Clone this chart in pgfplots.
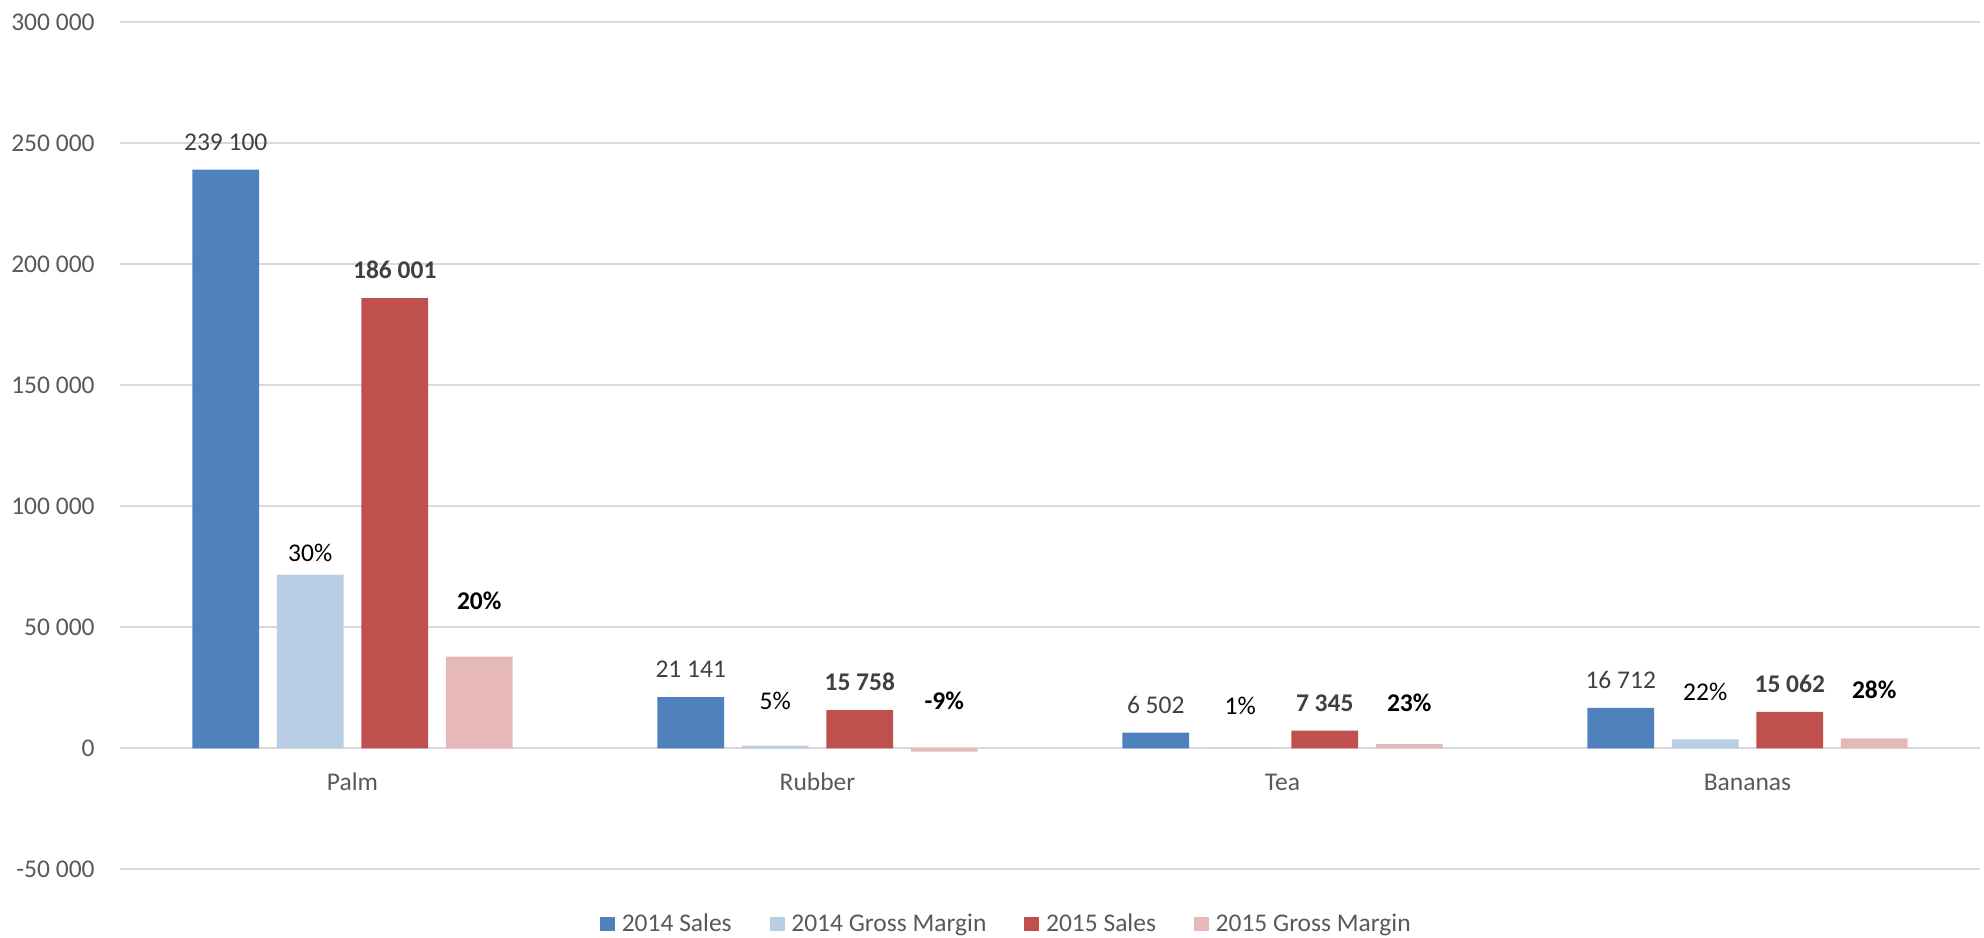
\documentclass[border=0pt]{standalone}
\usepackage{pgfplots}
\pgfplotsset{compat=1.18}
\usepackage{fontspec}
\setmainfont{Carlito}
\definecolor{sBlue}{HTML}{4F81BD}
\definecolor{sLBlue}{HTML}{B9CDE5}
\definecolor{sRed}{HTML}{C0504D}
\definecolor{sPink}{HTML}{E6B9B8}
\definecolor{textgray}{HTML}{595959}
\definecolor{labelgray}{HTML}{404040}
\definecolor{gridgray}{HTML}{D9D9D9}
\newcommand\cf{\fontsize{12.75bp}{15bp}\selectfont}
\begin{document}
\begin{tikzpicture}
\begin{axis}[
  scale only axis,
  width=930bp, height=423.5bp,
  xmin=-0.5, xmax=3.5,
  ymin=-50000, ymax=300000,
  ybar, bar width=0.1434,
  axis line style={draw=none},
  major tick length=0pt,
  ymajorgrids,
  grid style={gridgray, line width=1bp},
  xtick={0,1,2,3},
  xticklabels={Palm,Rubber,Tea,Bananas},
  ytick={-50000,0,50000,100000,150000,200000,250000,300000},
  yticklabels={-50 000,0,50 000,100 000,150 000,200 000,250 000,300 000},
  /pgf/number format/assume math mode=true,
  xticklabel style={font=\cf, text=textgray, anchor=base, inner sep=0pt, yshift=39.3bp},
  yticklabel style={font=\cf, text=textgray, anchor=east, inner sep=0pt, xshift=-12.5bp},
  legend columns=4,
  legend style={at={(rel axis cs:0.2581,-0.0649)}, anchor=west, draw=none, fill=none,
    inner sep=0pt, outer sep=0pt, font=\cf, text=textgray,
    nodes={inner sep=0pt},
    /tikz/every odd column/.append style={column sep=3.35bp},
    /tikz/every even column/.append style={column sep=19bp}},
  legend cell align=left,
  legend image code/.code={\path[#1] (0bp,-3.5bp) rectangle (7.5bp,3.5bp);},
  point meta=explicit symbolic,
]
% 2014 Sales
\addplot[fill=sBlue, draw=none, bar shift=-0.2726,
  nodes near coords,
  every node near coord/.append style={anchor=base, inner sep=0pt, yshift=9.6bp, font=\cf, text=labelgray}]
  coordinates {(0,239100)[239 100] (1,21141)[21 141] (2,6502)[6 502] (3,16712)[16 712]};
\addlegendentry{2014 Sales}
% 2014 Gross Margin
\addplot[fill=sLBlue, draw=none, bar shift=-0.0909]
  coordinates {(0,71730) (1,1057) (2,65) (3,3677)};
\addlegendentry{2014 Gross Margin}
% 2015 Sales
\addplot[fill=sRed, draw=none, bar shift=0.0909,
  nodes near coords,
  every node near coord/.append style={anchor=base, inner sep=0pt, yshift=9.6bp, font=\cf\bfseries, text=labelgray}]
  coordinates {(0,186001)[186 001] (1,15758)[15 758] (2,7345)[7 345] (3,15062)[15 062]};
\addlegendentry{2015 Sales}
% 2015 Gross Margin
\addplot[fill=sPink, draw=none, bar shift=0.2726]
  coordinates {(0,37850) (1,-1418) (2,1689) (3,4100)};
\addlegendentry{2015 Gross Margin}
% label positions of the gross margin values
\addplot[draw=none, fill=none, forget plot, bar shift=-0.0909,
  nodes near coords,
  every node near coord/.append style={anchor=base, inner sep=0pt, font=\cf, text=black}]
  coordinates {(0,77100)[30\%] (1,16100)[5\%] (2,14170)[1\%] (3,19670)[22\%]};
\addplot[draw=none, fill=none, forget plot, bar shift=0.2726,
  nodes near coords,
  every node near coord/.append style={anchor=base, inner sep=0pt, font=\cf\bfseries, text=black}]
  coordinates {(0,57150)[20\%] (1,16100)[-9\%] (2,15400)[23\%] (3,20660)[28\%]};
\end{axis}
\pgfresetboundingbox
\path[use as bounding box] (-60bp,-34.35bp) rectangle (932bp,434.65bp);
\end{tikzpicture}
\end{document}
